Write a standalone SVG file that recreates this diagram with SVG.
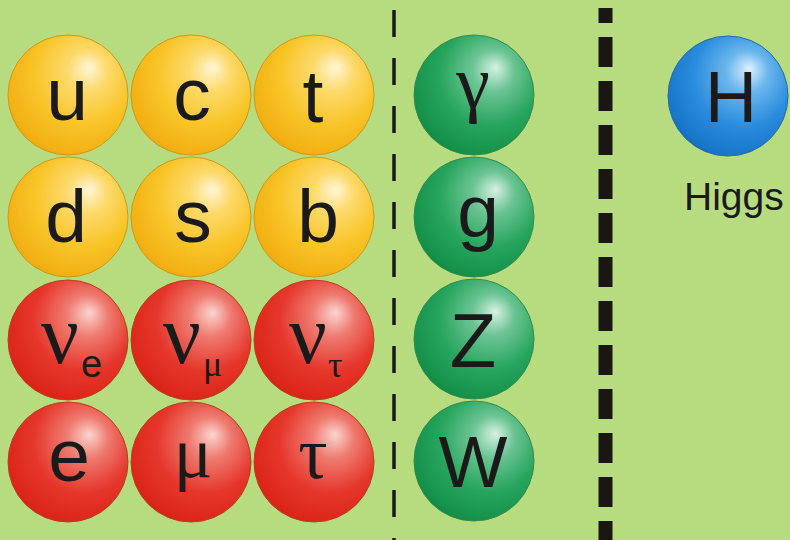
<svg xmlns="http://www.w3.org/2000/svg" width="790" height="540" viewBox="0 0 790 540">
<defs>
<radialGradient id="gy" cx="0.6" cy="0.38" r="0.7" fx="0.68" fy="0.27">
<stop offset="0" stop-color="#fff6d6"/><stop offset="0.25" stop-color="#fcd96a"/><stop offset="0.6" stop-color="#f8c426"/><stop offset="0.9" stop-color="#f2b014"/><stop offset="1" stop-color="#eaa30e"/>
</radialGradient>
<radialGradient id="gr" cx="0.6" cy="0.38" r="0.7" fx="0.68" fy="0.27">
<stop offset="0" stop-color="#fbd4cf"/><stop offset="0.25" stop-color="#ee7b70"/><stop offset="0.6" stop-color="#e6372c"/><stop offset="0.9" stop-color="#dc261a"/><stop offset="1" stop-color="#cc2016"/>
</radialGradient>
<radialGradient id="gg" cx="0.6" cy="0.38" r="0.7" fx="0.68" fy="0.27">
<stop offset="0" stop-color="#d6f1e2"/><stop offset="0.25" stop-color="#6cc494"/><stop offset="0.6" stop-color="#27a55e"/><stop offset="0.9" stop-color="#15914a"/><stop offset="1" stop-color="#0f7f3e"/>
</radialGradient>
<radialGradient id="gb" cx="0.6" cy="0.38" r="0.7" fx="0.68" fy="0.27">
<stop offset="0" stop-color="#dcefff"/><stop offset="0.25" stop-color="#6ab6ec"/><stop offset="0.6" stop-color="#2a8cde"/><stop offset="0.9" stop-color="#1876c8"/><stop offset="1" stop-color="#1064b2"/>
</radialGradient>
</defs>
<style>
.y{fill:url(#gy);stroke:#c99a1e;stroke-width:1}
.r{fill:url(#gr);stroke:#b8401c;stroke-width:1}
.g{fill:url(#gg);stroke:#3a8a4a;stroke-width:1}
.b{fill:url(#gb);stroke:#2a6aa0;stroke-width:1}
.s{font-family:"Liberation Sans",Arial,sans-serif;fill:#1a1a1a;text-anchor:middle}
.f{font-family:"Liberation Serif","Times New Roman",serif;fill:#1a1a1a;text-anchor:middle}
.sub{text-anchor:start}
</style>
<rect width="790" height="540" fill="#b6dc7f"/>
<g id="dividers">
<line x1="394" y1="10" x2="394" y2="540" stroke="#1a1a14" stroke-width="3.5" stroke-dasharray="27 21"/>
<line x1="605.5" y1="8" x2="605.5" y2="540" stroke="#1a1612" stroke-width="14" stroke-dasharray="30 14" stroke-dashoffset="15"/>
</g>
<g id="u"><circle class="y" cx="68" cy="95" r="60"/><text class="s" x="67" y="120" font-size="75">u</text></g>
<g id="c"><circle class="y" cx="191" cy="95" r="60"/><text class="s" x="192" y="120" font-size="75">c</text></g>
<g id="t"><circle class="y" cx="314" cy="95" r="60"/><text class="s" x="313" y="122" font-size="75">t</text></g>
<g id="d"><circle class="y" cx="68" cy="217" r="60"/><text class="s" x="66" y="242" font-size="75">d</text></g>
<g id="s"><circle class="y" cx="191" cy="217" r="60"/><text class="s" x="193" y="242" font-size="75">s</text></g>
<g id="b"><circle class="y" cx="314" cy="217" r="60"/><text class="s" x="318" y="242" font-size="75">b</text></g>
<g id="nu_e"><circle class="r" cx="68" cy="340" r="60"/><text class="f" x="60" y="363" font-size="84">ν</text><text class="s sub" x="81" y="377" font-size="38">e</text></g>
<g id="nu_mu"><circle class="r" cx="191" cy="340" r="60"/><text class="f" x="182" y="363" font-size="84">ν</text><text class="f sub" x="203" y="376" font-size="36">μ</text></g>
<g id="nu_tau"><circle class="r" cx="314" cy="340" r="60"/><text class="f" x="308" y="363" font-size="84">ν</text><text class="f sub" x="328" y="377" font-size="36">τ</text></g>
<g id="e"><circle class="r" cx="68" cy="462" r="60"/><text class="s" x="69" y="481" font-size="75">e</text></g>
<g id="mu"><circle class="r" cx="191" cy="462" r="60"/><text class="f" x="193" y="477" font-size="72">μ</text></g>
<g id="tau"><circle class="r" cx="314" cy="462" r="60"/><text class="f" x="313" y="478" font-size="73">τ</text></g>
<g id="gamma"><circle class="g" cx="474" cy="95" r="60"/><text class="f" x="473" y="108" font-size="76">γ</text></g>
<g id="gluon"><circle class="g" cx="474" cy="217" r="60"/><text class="s" x="478" y="237" font-size="75">g</text></g>
<g id="Z"><circle class="g" cx="474" cy="339" r="60"/><text class="s" x="473" y="367" font-size="76">Z</text></g>
<g id="W"><circle class="g" cx="474" cy="461" r="60"/><text class="s" x="473" y="487" font-size="73">W</text></g>
<g id="H"><circle class="b" cx="728" cy="96" r="60"/><text class="s" x="731" y="122" font-size="72">H</text></g>
<g id="higgs-label"><text class="s sub" x="684" y="210" font-size="39">Higgs</text></g>
</svg>
